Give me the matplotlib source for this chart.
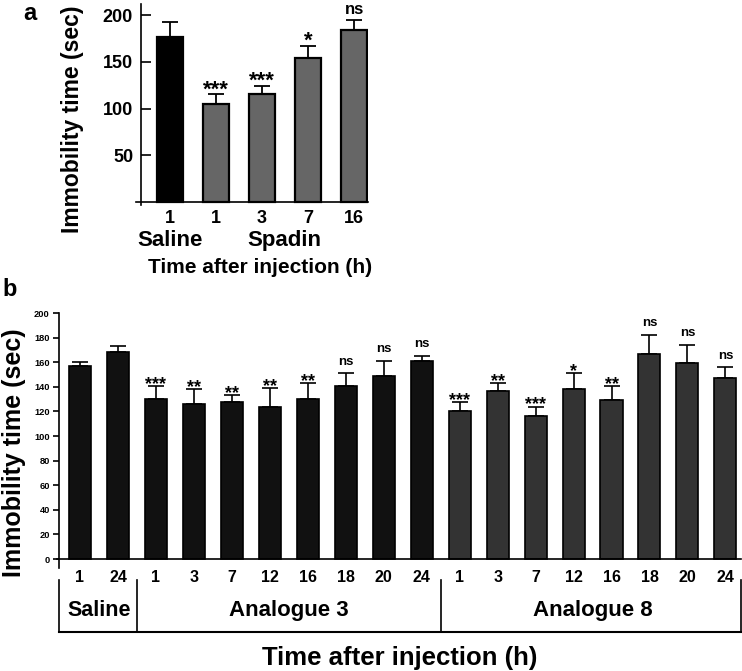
import matplotlib
matplotlib.use('Agg')
import matplotlib.pyplot as plt
import numpy as np

plt.rcParams['font.family'] = ['Liberation Sans', 'DejaVu Sans']
plt.rcParams['font.weight'] = 'bold'

# Panel a data
a_labels = ['1', '1', '3', '7', '16']
a_groups = ['Saline', 'Spadin']
a_means = [176, 105, 115, 154, 184]
a_errs = [17, 10, 9, 13, 11]
a_sig = ['', '***', '***', '*', 'ns']
a_colors = ['#000000', '#666666', '#666666', '#666666', '#666666']

# Panel b data
b_labels = ['1', '24', '1', '3', '7', '12', '16', '18', '20', '24',
            '1', '3', '7', '12', '16', '18', '20', '24']
b_groups = ['Saline', 'Analogue 3', 'Analogue 8']
b_group_sizes = [2, 8, 8]
b_means = [157, 168, 130, 126, 128, 124, 130, 141, 149, 161,
           120, 137, 116, 138, 129, 167, 159, 147]
b_errs = [3, 5, 11, 12, 5, 15, 13, 10, 12, 4,
          8, 6.5, 8, 13, 12, 15.5, 15, 9]
b_sig = ['', '', '***', '**', '**', '**', '**', 'ns', 'ns', 'ns',
         '***', '**', '***', '*', '**', 'ns', 'ns', 'ns']
b_colors = ['#111111'] * 10 + ['#333333'] * 8

fig = plt.figure(figsize=(7.42, 6.71), dpi=100)

# ---------------- panel a ----------------
ax1 = fig.add_axes([0.1833, 0.6945, 0.3127, 0.2998])
xa = np.arange(len(a_means))
ax1.bar(xa, a_means, width=0.565, color=a_colors, edgecolor='black', linewidth=1.6, zorder=2)
ax1.errorbar(xa, a_means, yerr=[np.zeros(len(a_errs)), a_errs], fmt='none',
             ecolor='black', elinewidth=1.3, capsize=5.5, capthick=1.3, zorder=1)
for x, m, e, s in zip(xa, a_means, a_errs, a_sig):
    if s == 'ns':
        ax1.text(x, m + e + 6, s, ha='center', va='baseline', fontsize=12, fontweight='bold')
    else:
        ax1.text(x, m + e - 1, s, ha='center', va='baseline', fontsize=16, fontweight='bold')

ax1.set_xlim(-0.739, 4.304)
ax1.set_ylim(-3.2, 212)
ax1.spines['top'].set_visible(False)
ax1.spines['right'].set_visible(False)
ax1.spines['bottom'].set_position(('data', 0))
ax1.spines['left'].set_position(('data', -0.637))
ax1.spines['left'].set_linewidth(1.2)
ax1.spines['bottom'].set_linewidth(1.2)
ax1.set_yticks([50, 100, 150, 200])
ax1.tick_params(axis='y', direction='in', length=7.5, width=1.2, pad=5.5, labelsize=13)
ax1.set_xticks(xa)
ax1.set_xticklabels(a_labels, fontsize=13, fontweight='bold')
ax1.tick_params(axis='x', length=0, pad=6)
for lab in ax1.get_yticklabels():
    lab.set_fontweight('bold')

ax1.text(0, -46.7, a_groups[0], ha='center', va='baseline', fontsize=16, fontweight='bold')
ax1.text(2.48, -46.7, a_groups[1], ha='center', va='baseline', fontsize=16, fontweight='bold')
ax1.text(1.96, -76, 'Time after injection (h)', ha='center', va='baseline',
         fontsize=15, fontweight='bold')

fig.text(73 / 742, 1 - 119 / 671, 'Immobility time (sec)', rotation=90,
         ha='center', va='center', fontsize=16.5, fontweight='bold')
fig.text(30 / 742, 1 - 14 / 671, 'a', ha='center', va='center', fontsize=17, fontweight='bold')

# ---------------- panel b ----------------
ax2 = fig.add_axes([0.0768, 0.1542, 0.9218, 0.3793])
xb = np.arange(len(b_means))
ax2.bar(xb, b_means, width=0.58, color=b_colors, edgecolor='black', linewidth=1.2, zorder=2)
ax2.errorbar(xb, b_means, yerr=[np.zeros(len(b_errs)), b_errs], fmt='none',
             ecolor='black', elinewidth=1.2, capsize=5.5, capthick=1.2, zorder=1)
for x, m, e, s in zip(xb, b_means, b_errs, b_sig):
    if s == 'ns':
        ax2.text(x, m + e + 7, s, ha='center', va='baseline', fontsize=9.5, fontweight='bold')
    elif s:
        ax2.text(x, m + e - 2.5, s, ha='center', va='baseline', fontsize=13, fontweight='bold')

ax2.set_xlim(-0.606, 17.41)
ax2.set_ylim(-6.9, 200)
ax2.spines['top'].set_visible(False)
ax2.spines['right'].set_visible(False)
ax2.spines['bottom'].set_position(('data', 0))
ax2.spines['left'].set_position(('data', -0.545))
ax2.spines['left'].set_linewidth(1.2)
ax2.spines['bottom'].set_linewidth(1.2)
ax2.set_yticks(np.arange(0, 201, 20))
ax2.tick_params(axis='y', direction='out', length=4.3, width=1.2, pad=2.5, labelsize=6.7)
for lab in ax2.get_yticklabels():
    lab.set_fontweight('bold')
ax2.set_xticks(xb)
ax2.set_xticklabels(b_labels, fontsize=11.5, fontweight='bold')
ax2.tick_params(axis='x', length=0, pad=8)

# group bracket under the x axis
edges = np.cumsum([0] + b_group_sizes) - 0.5
edges[0] = -0.545
edges[-1] = 17.41
y_top, y_bot = -17, -59.3
for e in edges:
    ax2.plot([e, e], [y_top, y_bot], color='black', lw=1.2, clip_on=False)
ax2.plot([edges[0], edges[-1]], [y_bot, y_bot], color='black', lw=1.5, clip_on=False)
starts = np.cumsum([0] + b_group_sizes[:-1])
for g, st, n in zip(b_groups, starts, b_group_sizes):
    cx = st + (n - 1) / 2
    fs = 15.5 if g == 'Saline' else 16
    ax2.text(cx, -46.3, g, ha='center', va='baseline', fontsize=fs, fontweight='bold')

ax2.text(8.43, -86.2, 'Time after injection (h)', ha='center', va='baseline',
         fontsize=18.5, fontweight='bold')

fig.text(14 / 742, 1 - 453 / 671, 'Immobility time (sec)', rotation=90,
         ha='center', va='center', fontsize=18, fontweight='bold')
fig.text(10 / 742, 1 - 290 / 671, 'b', ha='center', va='center', fontsize=17, fontweight='bold')

fig.savefig('out.png', dpi=100, facecolor='white')
